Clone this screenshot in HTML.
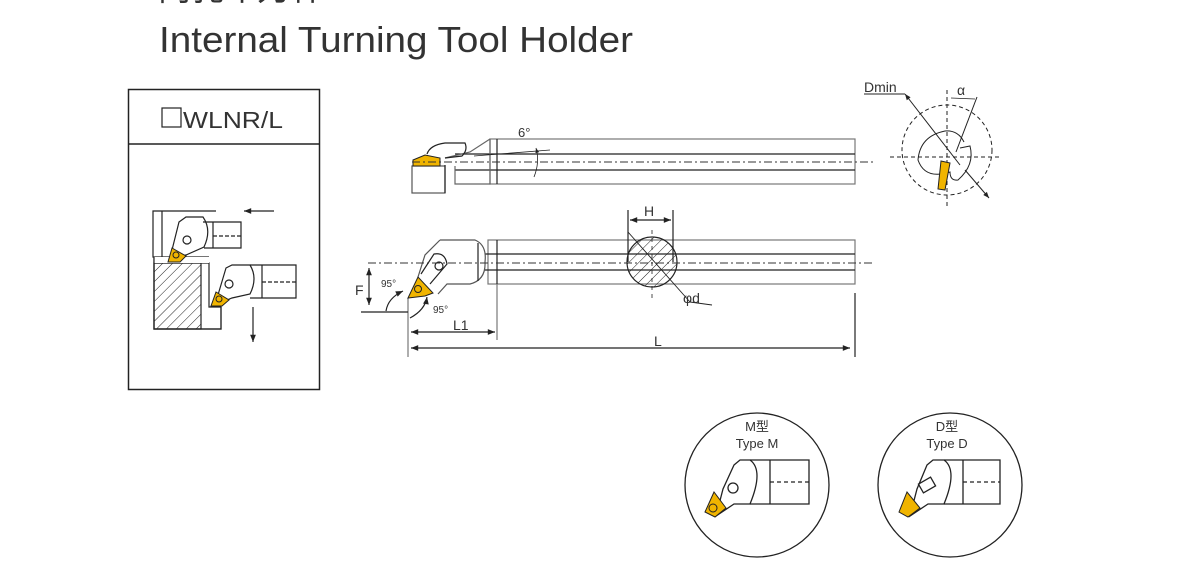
<!DOCTYPE html>
<html><head><meta charset="utf-8"><style>
html,body{margin:0;padding:0;background:#fff;width:1191px;height:564px;overflow:hidden}
svg{display:block}
text{font-family:"Liberation Sans","Noto Sans CJK SC",sans-serif;fill:#333}
</style></head><body>
<svg width="1191" height="564" viewBox="0 0 1191 564" xmlns="http://www.w3.org/2000/svg">
<defs>
<pattern id="h" width="7" height="7" patternUnits="userSpaceOnUse" patternTransform="rotate(45)"><line x1="0" y1="0" x2="0" y2="7" stroke="#222" stroke-width="1"/></pattern>
<marker id="a" viewBox="0 0 10 10" refX="10" refY="5" markerWidth="8" markerHeight="6" orient="auto-start-reverse"><path d="M0,1L10,5L0,9z" fill="#222"/></marker>
</defs>
<text x="158" y="0" font-size="34" fill="#222" textLength="165" lengthAdjust="spacingAndGlyphs">内孔车刀杆</text>
<text x="159" y="52" font-size="36" fill="#222" textLength="474" lengthAdjust="spacingAndGlyphs">Internal Turning Tool Holder</text>

<!-- left box -->
<rect x="128.5" y="89.5" width="191" height="300" fill="none" stroke="#222" stroke-width="1.5"/>
<line x1="128" y1="144" x2="320" y2="144" stroke="#222" stroke-width="1.5"/>
<rect x="162" y="108" width="19" height="19" fill="none" stroke="#222" stroke-width="1.2"/>
<text x="183" y="128" font-size="23" textLength="100" lengthAdjust="spacingAndGlyphs">WLNR/L</text>
<g stroke="#222" stroke-width="1.2" fill="none">
<path d="M216,211H153V257H209"/><line x1="162" y1="211" x2="162" y2="257"/>
<rect x="154" y="263" width="47" height="66" fill="url(#h)"/>
<path d="M154,257V329H221V307H209V263H154"/>
<rect x="154" y="257" width="55" height="6" fill="#fff" stroke="none"/>
<path d="M154,257V329H221V307"/>
<path d="M179,222L186,217H203Q212,230 204,247L186,255L170,258Z" fill="#fff"/>
<path d="M203,222H241V248H204"/><line x1="213" y1="222" x2="213" y2="248"/>
<line x1="213" y1="236" x2="241" y2="236" stroke-dasharray="4,2"/>
<path d="M226,268L232,265H250Q258,278 250,294L232,298L215,305Z" fill="#fff"/>
<path d="M250,265H296V298H250"/><line x1="262" y1="265" x2="262" y2="298"/>
<line x1="262" y1="282" x2="296" y2="282" stroke-dasharray="4,2"/>
<line x1="274" y1="211" x2="244" y2="211" marker-end="url(#a)"/>
<line x1="253" y1="307" x2="253" y2="342" marker-end="url(#a)"/>
<circle cx="187" cy="240" r="4"/><circle cx="229" cy="284" r="4"/>
</g>
<path d="M172,248L186,256L180,262H168Z" fill="#f0b400" stroke="#222"/>
<circle cx="176" cy="255" r="3" fill="none" stroke="#222"/>
<path d="M216,292L229,300L222,306H211Z" fill="#f0b400" stroke="#222"/>
<circle cx="219" cy="299" r="3" fill="none" stroke="#222"/>

<!-- top view -->
<g stroke="#222" stroke-width="1.2" fill="none">
<rect x="490" y="139" width="365" height="45" stroke="#777"/>
<line x1="455" y1="154" x2="855" y2="154"/><line x1="455" y1="170" x2="855" y2="170"/>
<line x1="497" y1="139" x2="497" y2="184"/>
<path d="M490,139L470,152L445,158M490,139V184H455V166" stroke="#666"/>
<path d="M427,154Q430,145 445,143H465Q468,150 462,156L445,158" />
<rect x="412" y="166" width="33" height="27" stroke="#555"/>
<line x1="445" y1="165" x2="445" y2="193"/>
<line x1="474" y1="156" x2="550" y2="150" stroke-width="0.8"/>
<path d="M536,148Q540,162 534,177" stroke-width="0.8" marker-start="url(#a)"/>
</g>
<path d="M413,160L425,155L440,158V166H413Z" fill="#f0b400" stroke="#222"/>
<line x1="412" y1="162" x2="875" y2="162" stroke="#333" stroke-dasharray="8,3,2,3"/>
<text x="518" y="137" font-size="13">6°</text>

<!-- bottom view -->
<g stroke="#222" stroke-width="1.2" fill="none">
<rect x="488" y="240" width="367" height="44" stroke="#777"/>
<line x1="484" y1="254" x2="855" y2="254"/><line x1="484" y1="270" x2="855" y2="270"/>
<line x1="497" y1="240" x2="497" y2="284"/>
<path d="M440,240H475Q487,245 485,262Q486,280 470,284H447L438,294" stroke="#555" fill="#fff"/>
<path d="M440,240L425,255L418,277" stroke="#555"/>
<line x1="478" y1="243" x2="478" y2="281"/>
<path d="M421,274L434,254Q445,252 447,264L430,284" />
<circle cx="439" cy="266" r="4"/>
<circle cx="652" cy="262" r="25" fill="url(#h)"/>
<line x1="628" y1="232" x2="690" y2="302" stroke-width="0.9"/>
<line x1="690" y1="302" x2="712" y2="305" stroke-width="0.9"/>
<line x1="628" y1="210" x2="628" y2="262"/><line x1="673" y1="210" x2="673" y2="262"/>
<line x1="630" y1="220" x2="671" y2="220" marker-start="url(#a)" marker-end="url(#a)"/>
<line x1="652" y1="230" x2="652" y2="300" stroke-dasharray="4,4" stroke-width="0.8"/>
<line x1="408" y1="298" x2="408" y2="357" stroke="#777"/>
<line x1="497" y1="284" x2="497" y2="340" stroke="#777"/>
<line x1="855" y1="293" x2="855" y2="357"/>
<line x1="411" y1="332" x2="495" y2="332" marker-start="url(#a)" marker-end="url(#a)"/>
<line x1="411" y1="348" x2="850" y2="348" marker-start="url(#a)" marker-end="url(#a)"/>
<line x1="369" y1="268" x2="369" y2="305" marker-start="url(#a)" marker-end="url(#a)"/>
<line x1="361" y1="312" x2="408" y2="312"/>
<path d="M386,311Q388,298 403,291" marker-end="url(#a)"/>
<path d="M410,318Q425,310 427,297" marker-end="url(#a)"/>
</g>
<path d="M408,298L418,277L433,293L425,296Z" fill="#f0b400" stroke="#222"/>
<circle cx="418" cy="289" r="3.5" fill="none" stroke="#222"/>
<line x1="368" y1="263" x2="875" y2="263" stroke="#333" stroke-dasharray="8,3,2,3"/>
<text x="644" y="216" font-size="14">H</text>
<text x="683" y="303" font-size="14">φd</text>
<text x="355" y="295" font-size="14">F</text>
<text x="381" y="287" font-size="10" fill="#666">95°</text>
<text x="433" y="313" font-size="10" fill="#666">95°</text>
<text x="453" y="330" font-size="14">L1</text>
<text x="654" y="346" font-size="14">L</text>

<!-- Dmin -->
<g stroke="#222" fill="none" stroke-width="1">
<circle cx="947" cy="150" r="45" stroke-dasharray="4,3"/>
<line x1="890" y1="157" x2="1000" y2="157" stroke-dasharray="4,3"/>
<line x1="947" y1="90" x2="947" y2="208" stroke-dasharray="4,3"/>
<path d="M960,148L970,146Q975,165 958,180Q950,181 950,172Q925,180 918,160Q920,136 945,131Q958,130 964,142"/>
<line x1="864" y1="94" x2="905" y2="94"/>
<line x1="905" y1="94" x2="960" y2="165" marker-start="url(#a)"/>
<line x1="965" y1="170" x2="989" y2="198" marker-end="url(#a)"/>
<line x1="956" y1="152" x2="977" y2="97"/>
<line x1="951" y1="98" x2="975" y2="99" stroke-width="0.8"/>
</g>
<path d="M941,161L950,163L945,190L938,189Z" fill="#f0b400" stroke="#222"/>
<text x="864" y="92" font-size="14">Dmin</text>
<text x="957" y="95" font-size="14">α</text>

<!-- type circles -->
<g stroke="#222" stroke-width="1.3" fill="none">
<circle cx="757" cy="485" r="72"/>
<circle cx="950" cy="485" r="72"/>
<path d="M734,465L740,460H750Q764,470 750,504H734L716,516L723,489Z" fill="#fff"/>
<path d="M750,460H809V504H750"/><line x1="770" y1="460" x2="770" y2="504"/>
<line x1="770" y1="482" x2="809" y2="482" stroke-dasharray="4,3"/>
<circle cx="733" cy="488" r="5"/>
<path d="M927,465L933,460H944Q958,470 944,504H928L910,516L917,489Z" fill="#fff"/>
<path d="M944,460H1000V504H944"/><line x1="963" y1="460" x2="963" y2="504"/>
<line x1="963" y1="482" x2="1000" y2="482" stroke-dasharray="4,3"/>
<rect x="920" y="480" width="14" height="10" transform="rotate(-30 927 485)"/>
</g>
<path d="M705,512L714,492L726,508L715,517Z" fill="#f0b400" stroke="#222"/>
<circle cx="713" cy="508" r="4" fill="none" stroke="#222"/>
<path d="M899,512L907,492L920,508L908,517Z" fill="#f0b400" stroke="#222"/>
<text x="757" y="431" font-size="13" text-anchor="middle">M型</text>
<text x="757" y="448" font-size="13" text-anchor="middle">Type M</text>
<text x="947" y="431" font-size="13" text-anchor="middle">D型</text>
<text x="947" y="448" font-size="13" text-anchor="middle">Type D</text>
</svg>
</body></html>
